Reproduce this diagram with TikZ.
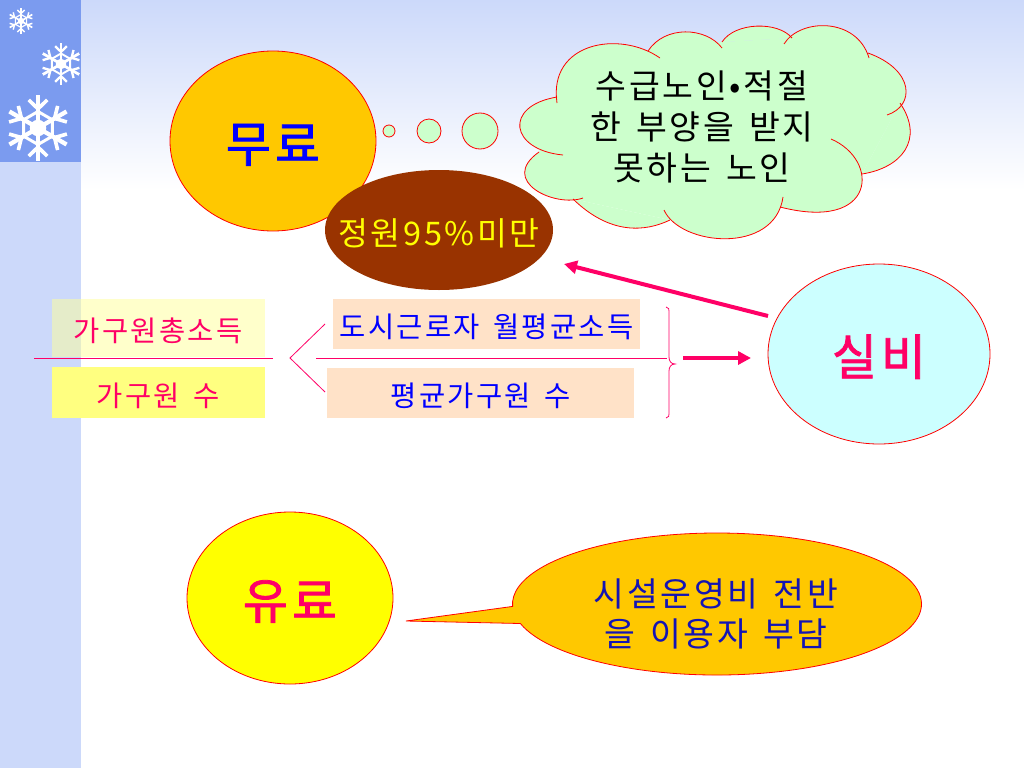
\documentclass[tikz,border=0pt]{standalone}
\usepackage{fontspec}
\setmainfont{Noto Sans CJK KR}[LetterSpace=8,WordSpace=1.5]
\newfontfamily\bigfont{Noto Sans CJK KR}[LetterSpace=8,FakeBold=1.6]
\usetikzlibrary{positioning}
\usetikzlibrary{arrows.meta}
\usetikzlibrary{shapes.geometric}
\usetikzlibrary{shapes.callouts}
\definecolor{stripblue}{HTML}{CCD9FA}
\definecolor{blockblue}{HTML}{7B9BEF}
\definecolor{orangefill}{HTML}{FFC800}
\definecolor{cloudgreen}{HTML}{CCFFCC}
\definecolor{brownfill}{HTML}{993300}
\definecolor{pinkline}{HTML}{FF0066}
\definecolor{peachbox}{HTML}{FFE2C8}
\definecolor{palecyan}{HTML}{CCFFFF}
\definecolor{pureyellow}{HTML}{FFFF00}
\definecolor{paleyellow}{HTML}{FFFF99}
\definecolor{midyellow}{HTML}{FFFF80}
\definecolor{strokered}{HTML}{FF0000}
\definecolor{pureblue}{HTML}{0000FF}
\definecolor{noteblue}{HTML}{1414B4}
\newcommand{\snowflake}[3]{%
  \foreach \ang in {0,60,...,300} {
    \begin{scope}[shift={(#1,#2)}, rotate=\ang]
      \draw[white, line width=0.13*#3] (0,0) -- (0,#3);
      \draw[white, line width=0.11*#3] (-0.28*#3,0.85*#3) -- (0,0.58*#3) -- (0.28*#3,0.85*#3);
      \draw[white, line width=0.09*#3] (0,0.5*#3) -- (0.433*#3,0.25*#3);
    \end{scope}
  }
  \fill[white] (#1,#2) circle (0.25*#3);
}
\newcommand{\lobelist}{557/103/548/42/620/30/660/58, 648/51/665/25/706/27/722/48,
  722/42/735/22/778/21/792/38, 784/44/800/18/857/17/869/58,
  868/53/915/70/915/106/887/115, 900/103/925/140/901/168/862/174,
  831/139/880/160/877/232/780/207, 783/197/775/255/680/246/664/210,
  670/220/645/232/610/235/573/199, 583/198/555/208/498/181/539/152,
  563/155/510/150/503/106/557/97}
\begin{document}
\begin{tikzpicture}[
    x=1pt, y=-1pt,
    bigtext/.style={font=\bigfont\fontsize{49}{56}\selectfont, text height=42pt, text depth=0pt},
    round/.style={draw=strokered, ellipse, inner sep=0pt, line width=0.8pt},
    bubble/.style={draw=strokered, circle, fill=cloudgreen, inner sep=0pt, line width=0.8pt},
    ratebox/.style={minimum width=213pt, inner sep=0pt, text=pinkline, font=\fontsize{28.5}{32}\selectfont, text height=27pt, text depth=0pt},
    basebox/.style={fill=peachbox, inner sep=0pt, text=pureblue, font=\fontsize{28.5}{32}\selectfont, text height=27pt, text depth=0pt},
    thinline/.style={pinkline, line width=0.8pt},
    arrow/.style={-{Triangle[length=13pt,width=13pt]}, pinkline, line width=3.5pt}
]
    \useasboundingbox (0,0) rectangle (1024,768);
    % background
    \fill[white] (0,0) rectangle (1024,768);
    \shade[top color=stripblue, bottom color=white] (81,0) rectangle (1024,190);
    \fill[stripblue] (0,0) rectangle (81,768);
    \fill[blockblue] (0,0) rectangle (81,162);
    \begin{scope}
        \clip (0,0) rectangle (81,162);
        \snowflake{21}{21}{13}
        \snowflake{61}{64}{21}
        \snowflake{38}{128}{33}
    \end{scope}

    % free ends of the arrows
    \coordinate (arrowa) at (683,358);
    \coordinate (arrowb) at (751,358);
    \coordinate (arrowc) at (768,316);
    \coordinate (arrowd) at (564,264);

    % cloud
    \fill[cloudgreen] (557,97) -- (648,51) -- (722,42) -- (792,38) -- (869,58) -- (900,103)
        -- (862,174) -- (780,207) -- (664,210) -- (670,220) -- (573,199) -- (539,152) -- cycle;
    \foreach \ax/\ay/\bx/\by/\cx/\cy/\dx/\dy in \lobelist {
        \fill[cloudgreen] (\ax,\ay) .. controls (\bx,\by) and (\cx,\cy) .. (\dx,\dy) -- cycle;
    }
    \foreach \ax/\ay/\bx/\by/\cx/\cy/\dx/\dy in \lobelist {
        \draw[strokered, line width=0.8pt] (\ax,\ay) .. controls (\bx,\by) and (\cx,\cy) .. (\dx,\dy);
    }
    \node[align=center, font=\fontsize{33.5}{41}\selectfont] (cloudtext) at (702,127) {수급노인•적절\\한 부양을 받지\\못하는 노인};

    % circles
    \node[round, fill=orangefill, minimum width=206pt, minimum height=180pt, text=pureblue, bigtext] (muryo) at (273,141) {무료};
    \node[bubble, minimum size=12pt] (bubblea) at (389,131) {};
    \node[bubble, minimum size=24pt] (bubbleb) at (429,131) {};
    \node[bubble, minimum size=36pt] (bubblec) at (480,131) {};
    \node[ellipse, fill=brownfill, minimum width=228pt, minimum height=120pt, inner sep=0pt] (jungwon) at (439,230) {};
    \node[text=pureyellow, font=\fontsize{32.5}{36}\selectfont, text height=30pt, text depth=0pt, inner sep=0pt] (jungwontext) at (439,230) {정원95\%미만};
    \node[round, fill=palecyan, minimum width=222pt, minimum height=180pt, text=pinkline, bigtext] (silbi) at (879,354) {실비};
    \node[round, fill=pureyellow, minimum width=206pt, minimum height=172pt, text=pinkline, bigtext] (yuryo) at (290,598) {유료};

    % formula
    \node[ratebox, minimum height=58pt, fill=paleyellow, fill opacity=0.5, text opacity=1] (incomebox) at (158,328) {가구원총소득};
    \node[ratebox, minimum height=51pt, fill=midyellow] (membox) at (158,392.5) {가구원 수};
    \node[basebox, minimum width=307pt, minimum height=50pt] (citybox) at (486.5,324) {도시근로자 월평균소득};
    \node[basebox, minimum width=307pt, minimum height=50pt] (avgbox) at (480.5,393) {평균가구원 수};
    \coordinate (linea) at (34,358);
    \coordinate (lineb) at (273,358);
    \coordinate (linec) at (316,358);
    \coordinate (lined) at (667,358);
    \coordinate (chevtop) at (325,324);
    \coordinate (chevtip) at (290,358);
    \coordinate (chevbot) at (325,392);
    \draw[thinline] (linea) -- (lineb);
    \draw[thinline] (linec) -- (lined);
    \draw[thinline] (chevtop) -- (chevtip) -- (chevbot);
    \draw[thinline] (666,307) .. controls (669,307) and (669,309) .. (669,314) -- (669,357)
        .. controls (669,361) and (671,364) .. (675,364) .. controls (671,364) and (669,367) .. (669,371)
        -- (669,411) .. controls (669,416) and (669,418) .. (666,418);
    \draw[arrow] (arrowa) -- (arrowb);
    \draw[arrow, line width=4pt] (arrowc) -- (arrowd);

    % callout
    \node[ellipse callout, draw=strokered, fill=orangefill, line width=0.8pt, minimum width=409pt, minimum height=142pt, inner sep=0pt,
        callout absolute pointer={(406,621)}, callout pointer arc=14] (yuryonote) at (717,604) {};
    \node[align=center, text=noteblue, font=\fontsize{33.5}{40}\selectfont] (notetext) at (716,614) {시설운영비 전반\\을 이용자 부담};
\end{tikzpicture}
\end{document}
